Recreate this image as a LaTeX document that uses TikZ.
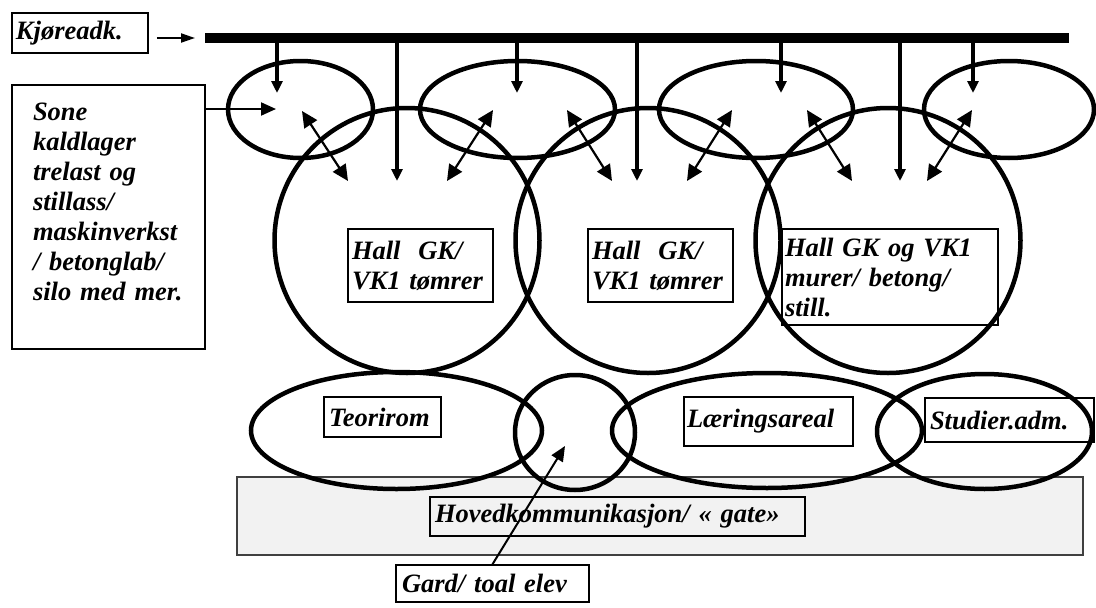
\documentclass[tikz,border=0pt]{standalone}
\usepackage{fontspec}
\setmainfont{Liberation Serif}
\usetikzlibrary{arrows.meta, shapes.geometric, calc}
\tikzset{
    zone/.style = {draw, ellipse, line width=4.5pt, inner sep=0pt},
    tag/.style = {draw, line width=1.5pt, inner sep=0pt, align=left,
        font=\bfseries\itshape\fontsize{26.5}{30}\selectfont},
    street/.style = {draw=black!75, fill=black!5, line width=1.8pt},
    feed/.style = {line width=4pt, -{Triangle[length=12pt, width=11pt]}},
    link/.style = {line width=2.2pt, {Triangle[length=16pt, width=15pt]}-{Triangle[length=16pt, width=15pt]}},
    pointer/.style = {line width=2pt, -{Triangle[length=15pt, width=13pt]}},
}

\begin{document}
\begin{tikzpicture}[x=1pt, y=-1pt]
\useasboundingbox (0,0) rectangle (1096,608);

% main street at the bottom
\node[street, minimum width=846pt, minimum height=78pt] (street) at (660,516) {};

% driveway
\coordinate (bar-w) at (205,38);
\coordinate (bar-e) at (1069,38);
\draw[line width=10pt] (bar-w) -- (bar-e);

% yard zones along the driveway
\node[zone, minimum width=145pt, minimum height=97pt] (y1) at (300.5,109.5) {};
\node[zone, minimum width=195pt, minimum height=97pt] (y2) at (517.5,109.5) {};
\node[zone, minimum width=194pt, minimum height=97pt] (y3) at (756,109.5) {};
\node[zone, minimum width=170pt, minimum height=97pt] (y4) at (1009,109.5) {};

% halls
\node[zone, minimum width=265pt, minimum height=265pt] (h1) at (407,240.5) {};
\node[zone, minimum width=265pt, minimum height=265pt] (h2) at (648,240.5) {};
\node[zone, minimum width=265pt, minimum height=265pt] (h3) at (888,240.5) {};

% bottom row
\node[zone, minimum width=291pt, minimum height=117pt] (teori) at (396.5,430.5) {};
\node[zone, minimum width=120pt, minimum height=115pt] (tun) at (575,432.5) {};
\node[zone, minimum width=310pt, minimum height=115pt] (laer) at (767,430.5) {};
\node[zone, minimum width=215pt, minimum height=115pt] (adm) at (984.5,431.5) {};

% labels
\node[tag, minimum width=136pt, minimum height=40pt, text width=128pt] (kjore) at (80,33) {Kjøreadk.};
\node[tag, minimum width=193pt, minimum height=264pt, text width=151pt] (sone) at (108.5,217)
    {Sone\\kaldlager\\trelast og\\stillass/\\maskinverkst\\/ betonglab/\\silo med mer.\\\mbox{}};
\node[tag, minimum width=145pt, minimum height=73pt, text width=137pt] (hall1) at (420.5,265.5) {Hall~~GK/\\VK1 tømrer};
\node[tag, minimum width=145pt, minimum height=73pt, text width=137pt] (hall2) at (660.5,265.5) {Hall~~GK/\\VK1 tømrer};
\node[tag, minimum width=216pt, minimum height=96pt, text width=210pt] (hall3) at (890,277) {Hall GK og VK1\\murer/ betong/\\still.};
\node[tag, minimum width=117pt, minimum height=40pt, text width=107pt] (teori-t) at (382.5,417) {Teorirom};
\node[tag, minimum width=169pt, minimum height=49pt, text width=163pt] (laer-t) at (768.5,421.5) {Læringsareal};
\node[tag, minimum width=169pt, minimum height=44pt, text width=159pt] (adm-t) at (1009.5,420) {Studier.adm.};
\node[tag, minimum width=375pt, minimum height=39pt, text width=365pt] (hoved) at (617.5,516.5) {Hovedkommunikasjon/ « gate»};
\node[tag, minimum width=193pt, minimum height=37pt, text width=181pt] (gard) at (492.5,583.5) {Gard/ toal elev};

% drops from the driveway
\coordinate (d1) at (277,93);
\coordinate (d2) at (517,93);
\coordinate (d3) at (781,93);
\coordinate (d4) at (973,93);
\coordinate (f1) at (397,181);
\coordinate (f2) at (637,181);
\coordinate (f3) at (900,181);
\foreach \i in {1,...,4}
    \draw[feed] (d\i |- bar-w) -- (d\i);
\foreach \i in {1,2,3}
    \draw[feed] (f\i |- bar-w) -- (f\i);

% links yard <-> hall
\coordinate (l1-a) at (302,111); \coordinate (l1-b) at (348,181);
\coordinate (l2-a) at (493,110); \coordinate (l2-b) at (447,181);
\coordinate (l3-a) at (567,110); \coordinate (l3-b) at (612,181);
\coordinate (l4-a) at (732,110); \coordinate (l4-b) at (687,181);
\coordinate (l5-a) at (807,110); \coordinate (l5-b) at (852,181);
\coordinate (l6-a) at (972,110); \coordinate (l6-b) at (927,181);
\foreach \i in {1,...,6}
    \draw[link] (l\i-a) -- (l\i-b);

% pointers
\coordinate (s1) at (276,109);
\coordinate (g1) at (565,446);
\draw[line width=2pt, -{Triangle[length=14pt, width=9pt]}, shorten <=8pt, shorten >=10pt]
    (kjore.east |- bar-w) -- (bar-w);
\draw[pointer] (sone.east |- s1) -- (s1);
\draw[pointer] (gard.north) -- (g1);
\end{tikzpicture}
\end{document}
